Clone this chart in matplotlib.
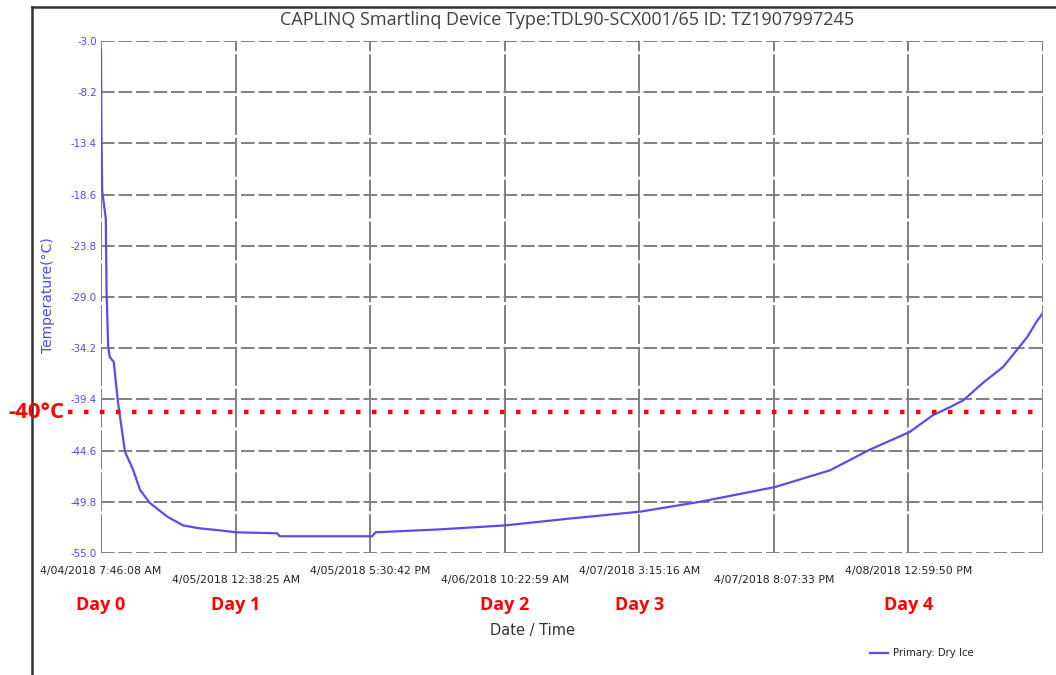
import matplotlib.pyplot as plt
from matplotlib.lines import Line2D

# hours since first reading (4/04/2018 7:46:08 AM)
hours = [0.0, 0.05, 0.15, 0.35, 0.6, 0.7, 0.9, 1.1, 1.6, 2.1, 3.0, 4.0, 4.9,
         6.1, 8.3, 10.3, 12.4, 14.9, 17.0, 22.1, 22.4, 34.0, 34.4, 42.5, 50.6,
         58.8, 67.6, 75.1, 84.5, 91.4, 96.4, 101.4, 104.3, 106.4, 108.1,
         110.6, 113.1, 114.8, 116.1, 117.3, 118.1]
temp = [-3.9, -12.0, -18.2, -19.5, -21.0, -28.5, -34.0, -35.1, -35.6, -39.5,
        -44.7, -46.5, -48.6, -49.9, -51.3, -52.2, -52.5, -52.7, -52.9, -53.0,
        -53.3, -53.3, -52.9, -52.6, -52.2, -51.5, -50.8, -49.8, -48.3, -46.6,
        -44.5, -42.7, -41.0, -40.2, -39.5, -37.7, -36.1, -34.4, -33.1, -31.5,
        -30.6]

yticks = [-3.0, -8.2, -13.4, -18.6, -23.8, -29.0, -34.2, -39.4, -44.6, -49.8, -55.0]
step = 16 + 52/60 + 17/3600  # 16:52:17 between date ticks
xtick_labels = ['4/04/2018 7:46:08 AM', '4/05/2018 12:38:25 AM',
                '4/05/2018 5:30:42 PM', '4/06/2018 10:22:59 AM',
                '4/07/2018 3:15:16 AM', '4/07/2018 8:07:33 PM',
                '4/08/2018 12:59:50 PM']
day_labels = ['Day 0', 'Day 1', 'Day 2', 'Day 3', 'Day 4']
day_ticks = [0, 1, 3, 4, 6]
limit = -40.7

W, H = 1056, 675
line_col = '#5b4ce8'
grid_col = '#808080'
fig = plt.figure(figsize=(W/100, H/100), dpi=100)
ax = fig.add_axes([101/W, 1-553/H, 942/W, 512/H])

ax.plot(hours, temp, color=line_col, lw=1.6)
ax.axhline(limit, color='red', lw=3.2, ls=(0, (1, 2.6)), xmin=-0.035, xmax=0.998,
           clip_on=False)

ax.set_xlim(0, 7*step)
ax.set_ylim(-55.0, -3.0)
ax.set_yticks(yticks)
ax.set_yticklabels(['%.1f' % v for v in yticks], color='#4a4ae0', fontsize=7.3)
ax.set_xticks([i*step for i in range(7)])
ax.set_xticklabels([])
ax.tick_params(length=0, pad=3)
for s in ax.spines.values():
    s.set_visible(False)
ax.grid(True, axis='y', color=grid_col, lw=1.4, ls=(0, (7, 2)))
ax.grid(True, axis='x', color=grid_col, lw=1.4, ls=(0, (20, 1.5)))
ax.axvline(7*step, color=grid_col, lw=1.4, ls=(0, (20, 1.5)))

# staggered date labels
for i, lab in enumerate(xtick_labels):
    ypx = 580 if i % 2 else 571
    fig.text((101 + i*942/7)/W, 1-ypx/H, lab, fontsize=7.8, color='#222222',
             ha='center', va='center')

for d, t in zip(day_labels, day_ticks):
    fig.text((101 + t*942/7)/W, 1-605/H, d, color='red', fontsize=13,
             fontweight='bold', ha='center', va='center', family='Open Sans')
fig.text(8/W, 1-412/H, '-40°C', color='red', fontsize=16, fontweight='bold',
         ha='left', va='center', family='Open Sans')
fig.text(567/W, 1-20/H, 'CAPLINQ Smartlinq Device Type:TDL90-SCX001/65 ID: TZ1907997245',
         fontsize=13, color='#404040', ha='center', va='center', family='Open Sans')
fig.text(48/W, 1-295/H, 'Temperature(°C)', rotation=90, color='#4a4ae0',
         fontsize=10, ha='center', va='center')
fig.text(532/W, 1-630/H, 'Date / Time', fontsize=10.5, color='#333333',
         ha='center', va='center')

# legend
fig.add_artist(Line2D([870/W, 888/W], [1-653/H]*2, color=line_col, lw=1.6))
fig.text(893/W, 1-653/H, 'Primary: Dry Ice', fontsize=7.3, color='#222222',
         ha='left', va='center')

# window frame
fig.add_artist(Line2D([32/W, 32/W], [0, 1-7/H], color='#333333', lw=1.8))
fig.add_artist(Line2D([32/W, 1], [1-7/H]*2, color='#333333', lw=1.8))

fig.savefig('out.png', dpi=100)
